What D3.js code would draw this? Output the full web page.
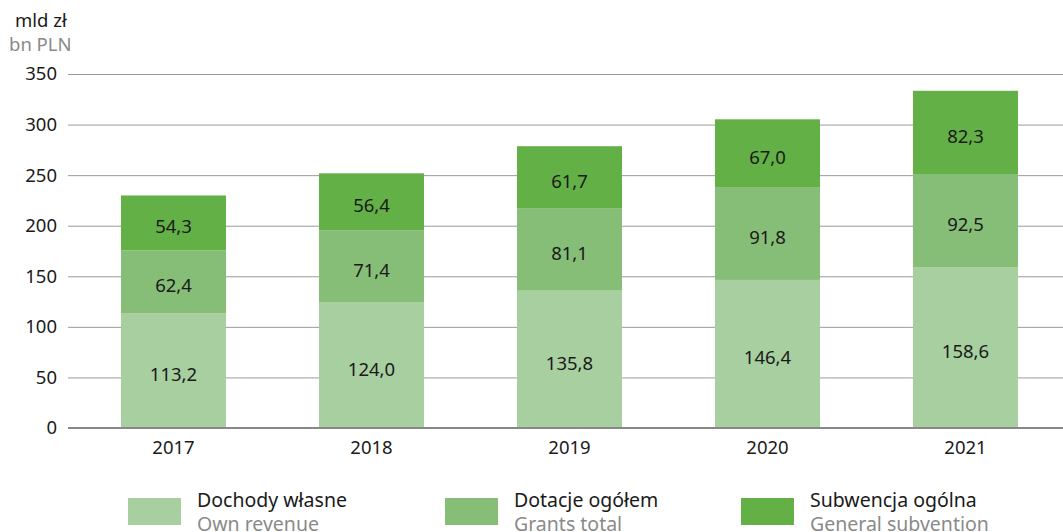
<!DOCTYPE html>
<html><head><meta charset="utf-8">
<script src="https://cdn.jsdelivr.net/npm/d3@7"></script>
<style>body{margin:0;background:#fff}svg{display:block;font-family:"Noto Sans",sans-serif}</style>
</head><body><svg id="c" width="1063" height="532"></svg>
<script>
const years = ["2017","2018","2019","2020","2021"];
const ownRevenue = [113.2,124.0,135.8,146.4,158.6];
const grants = [62.4,71.4,81.1,91.8,92.5];
const subvention = [54.3,56.4,61.7,67.0,82.3];
const yTicks = [0,50,100,150,200,250,300,350];
const seriesPL = ["Dochody własne","Dotacje ogółem","Subwencja ogólna"];
const seriesEN = ["Own revenue","Grants total","General subvention"];
const colors = ["#a7cf9f","#86be77","#63b047"];

const svg = d3.select("#c");
const y = d3.scaleLinear().domain([0,350]).range([428,74]);
const x = d3.scaleBand().domain(years).range([74.5,1064.5]).padding(0);
const barW = 105;
const fmt = v => d3.format(".1f")(v).replace(".",",");
const fs = 18.5;

// gridlines
svg.append("g").selectAll("line").data(yTicks.filter(d=>d>0)).join("line")
  .attr("x1",68).attr("x2",1063).attr("y1",d=>y(d)+0.5).attr("y2",d=>y(d)+0.5)
  .attr("stroke","#9a9a9a").attr("stroke-width",1);
svg.append("g").selectAll("text").data(yTicks).join("text")
  .attr("x",57).attr("y",d=>y(d)).attr("dy","0.35em").attr("text-anchor","end")
  .attr("font-size",fs).attr("fill","#1a1a1a").text(d=>d);

const data = years.map((yr,i)=>({yr, vals:[ownRevenue[i],grants[i],subvention[i]]}));
const segs = [];
data.forEach(d=>{let c=0; d.vals.forEach((v,k)=>{segs.push({yr:d.yr,k,v,y0:c,y1:c+v}); c+=v;});});

svg.append("g").selectAll("rect").data(segs).join("rect")
  .attr("x",d=>x(d.yr)+x.bandwidth()/2-barW/2).attr("width",barW)
  .attr("y",d=>y(d.y1)).attr("height",d=>y(d.y0)-y(d.y1))
  .attr("fill",d=>colors[d.k]);

svg.append("g").selectAll("text").data(segs).join("text")
  .attr("x",d=>x(d.yr)+x.bandwidth()/2).attr("y",d=>(y(d.y0)+y(d.y1))/2+4)
  .attr("dy","0.35em").attr("text-anchor","middle").attr("font-size",fs).attr("fill","#1a1a1a")
  .text(d=>fmt(d.v));

// zero line
svg.append("line").attr("x1",68).attr("x2",1063).attr("y1",y(0)).attr("y2",y(0))
  .attr("stroke","#888").attr("stroke-width",2);

svg.append("g").selectAll("text").data(years).join("text")
  .attr("x",d=>x(d)+x.bandwidth()/2).attr("y",454).attr("text-anchor","middle")
  .attr("font-size",fs).attr("fill","#1a1a1a").text(d=>d);

// unit labels
svg.append("text").attr("x",15).attr("y",27).attr("font-size",fs).attr("fill","#1a1a1a").text("mld zł");
svg.append("text").attr("x",9).attr("y",50.5).attr("font-size",fs).attr("fill","#8a8a8a").text("bn PLN");

// legend
const legX = [128,445,741];
const lg = svg.append("g").selectAll("g").data(seriesPL).join("g")
  .attr("transform",(d,i)=>`translate(${legX[i]},0)`);
lg.append("rect").attr("x",0).attr("y",498).attr("width",53).attr("height",27).attr("fill",(d,i)=>colors[i]);
lg.append("text").attr("x",69).attr("y",507).attr("font-size",19.5).attr("fill","#1a1a1a").text(d=>d);
lg.append("text").attr("x",69).attr("y",530.5).attr("font-size",19.5).attr("fill","#8a8a8a").text((d,i)=>seriesEN[i]);
</script></body></html>
